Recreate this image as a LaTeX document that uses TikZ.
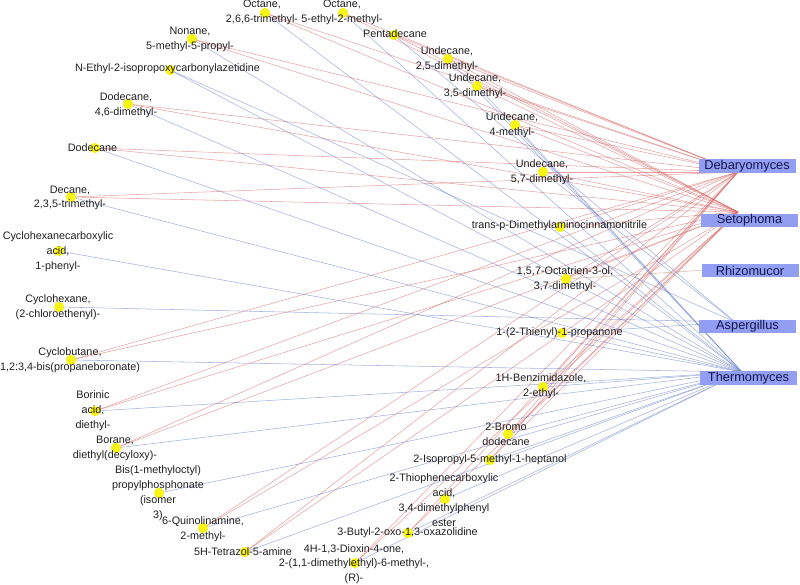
\documentclass[tikz,border=0pt]{standalone}
\usepackage{fontspec}
\setmainfont{Liberation Sans}
\definecolor{redE}{RGB}{214,104,104}
\definecolor{bluE}{RGB}{104,128,200}
\definecolor{tanE}{RGB}{200,160,130}
\definecolor{boxF}{RGB}{146,158,242}
\definecolor{boxT}{RGB}{20,20,78}
\definecolor{dotY}{RGB}{248,244,20}
\tikzset{
  cmp/.style={align=center,inner sep=0pt,font=\fontsize{10.8}{14.8}\selectfont,text=black!88},
  ydot/.style={circle,fill=dotY,draw=none,minimum size=10pt,inner sep=0pt},
  fung/.style={fill=boxF,draw=none,minimum width=97pt,minimum height=13.5pt,inner sep=0pt,font=\fontsize{12.8}{13}\selectfont,text=boxT},
  redge/.style={draw=redE,line width=0.55pt,opacity=0.6},
  bedge/.style={draw=bluE,line width=0.55pt,opacity=0.6},
  tedge/.style={draw=tanE,line width=0.55pt,opacity=0.7}
}
\begin{document}
\begin{tikzpicture}[x=1pt,y=-1pt]
\useasboundingbox (0,0) rectangle (800,584);
% fungus anchor points
\coordinate (D) at (738,172);
\coordinate (S) at (738,212);
\coordinate (R) at (738,268);
\coordinate (A) at (735,322);
\coordinate (T) at (742,372);
% dots
\node[ydot] (oct266) at (265,13) {};
\node[ydot] (oct5e) at (343,13) {};
\node[ydot] (penta) at (394,35) {};
\node[ydot] (und25) at (448,59) {};
\node[ydot] (und35) at (477,86) {};
\node[ydot] (und4m) at (515,125) {};
\node[ydot] (und57) at (543,172) {};
\node[ydot] (nonane) at (192,39) {};
\node[ydot] (nethyl) at (170,70) {};
\node[ydot] (dod46) at (128,104) {};
\node[ydot] (dod) at (95,148) {};
\node[ydot] (decane) at (71,197) {};
\node[ydot] (chca) at (59,251) {};
\node[ydot] (chx) at (59,307) {};
\node[ydot] (cbut) at (71,360) {};
\node[ydot] (borinic) at (95,411) {};
\node[ydot] (borane) at (116,448) {};
\node[ydot] (bis) at (159,493) {};
\node[ydot] (quin) at (203,528) {};
\node[ydot] (tetra) at (245,552) {};
\node[ydot] (transp) at (560,227) {};
\node[ydot] (octa) at (566,279) {};
\node[ydot] (thien) at (562,333) {};
\node[ydot] (benz) at (543,387) {};
\node[ydot] (bromo) at (508,434) {};
\node[ydot] (isop) at (490,460) {};
\node[ydot] (thioph) at (445,499) {};
\node[ydot] (butyl) at (408,533) {};
\node[ydot] (dioxin) at (355,563) {};
% edges
\foreach \c in {oct266,oct5e,penta,und25,und35,und4m,und57,nonane,dod46,dod,decane,cbut,borinic,borane,quin,tetra,transp,octa,benz,bromo,isop,butyl,dioxin}{
  \draw[redge] (\c.center) -- (D);
  \draw[redge] (\c.center) -- (S);
}
\foreach \c in {oct266,oct5e,und25,und35,und4m,nonane,nethyl,dod46,dod,decane,chca,cbut,borinic,borane,bis,quin,tetra,transp,thien,benz,bromo,isop,thioph,butyl,dioxin}{
  \draw[bedge] (\c.center) -- (T);
}
\foreach \c in {penta,und57,nethyl,chx,thien}{
  \draw[bedge] (\c.center) -- (A);
}
\foreach \c in {octa}{
  \draw[tedge] (\c.center) -- (R);
}
% redraw dots over edges
\foreach \c in {oct266,oct5e,penta,und25,und35,und4m,und57,nonane,nethyl,dod46,dod,decane,chca,chx,cbut,borinic,borane,bis,quin,tetra,transp,octa,thien,benz,bromo,isop,thioph,butyl,dioxin}{
  \fill[dotY] (\c) circle (5pt);
}
% labels
\node[cmp] (l-oct266) at (262,12.5) {Octane,\\2,6,6-trimethyl-};
\node[cmp] (l-oct5e) at (342,12.5) {Octane,\\5-ethyl-2-methyl-};
\node[cmp] (l-penta) at (395,34) {Pentadecane};
\node[cmp] (l-und25) at (447,59) {Undecane,\\2,5-dimethyl-};
\node[cmp] (l-und35) at (475,86) {Undecane,\\3,5-dimethyl-};
\node[cmp] (l-und4m) at (512,125.5) {Undecane,\\4-methyl-};
\node[cmp] (l-und57) at (542,172.5) {Undecane,\\5,7-dimethyl-};
\node[cmp] (l-nonane) at (190,39.5) {Nonane,\\5-methyl-5-propyl-};
\node[cmp] (l-nethyl) at (167.5,69) {N-Ethyl-2-isopropoxycarbonylazetidine};
\node[cmp] (l-dod46) at (126,105) {Dodecane,\\4,6-dimethyl-};
\node[cmp] (l-dod) at (92.5,148) {Dodecane};
\node[cmp] (l-decane) at (70,198) {Decane,\\2,3,5-trimethyl-};
\node[cmp] (l-chca) at (58,252) {Cyclohexanecarboxylic\\acid,\\1-phenyl-};
\node[cmp] (l-chx) at (58,307.5) {Cyclohexane,\\(2-chloroethenyl)-};
\node[cmp] (l-cbut) at (70,360.5) {Cyclobutane,\\1,2:3,4-bis(propaneboronate)};
\node[cmp] (l-borinic) at (93,410.5) {Borinic\\acid,\\diethyl-};
\node[cmp] (l-borane) at (115,448) {Borane,\\diethyl(decyloxy)-};
\node[cmp] (l-bis) at (158,493) {Bis(1-methyloctyl)\\propylphosphonate\\(isomer\\3)};
\node[cmp] (l-quin) at (203,529) {6-Quinolinamine,\\2-methyl-};
\node[cmp] (l-tetra) at (243,552) {5H-Tetrazol-5-amine};
\node[cmp] (l-transp) at (559.5,226) {trans-p-Dimethylaminocinnamonitrile};
\node[cmp] (l-octa) at (565,279) {1,5,7-Octatrien-3-ol,\\3,7-dimethyl-};
\node[cmp] (l-thien) at (559.5,333) {1-(2-Thienyl)-1-propanone};
\node[cmp] (l-benz) at (541,386) {1H-Benzimidazole,\\2-ethyl-};
\node[cmp] (l-bromo) at (506,434.5) {2-Bromo\\dodecane};
\node[cmp] (l-isop) at (490,460) {2-Isopropyl-5-methyl-1-heptanol};
\node[cmp] (l-thioph) at (444,500) {2-Thiophenecarboxylic\\acid,\\3,4-dimethylphenyl\\ester};
\node[cmp] (l-butyl) at (407.5,533) {3-Butyl-2-oxo-1,3-oxazolidine};
\node[cmp] (l-dioxin) at (354,564) {4H-1,3-Dioxin-4-one,\\2-(1,1-dimethylethyl)-6-methyl-,\\(R)-};
% fungi
\node[fung] (deb) at (747,166) {Debaryomyces};
\node[fung] (set) at (749.5,220.5) {Setophoma};
\node[fung] (rhi) at (750,270.5) {Rhizomucor};
\node[fung] (asp) at (747.5,326.5) {Aspergillus};
\node[fung] (the) at (748.5,378) {Thermomyces};
\end{tikzpicture}
\end{document}
